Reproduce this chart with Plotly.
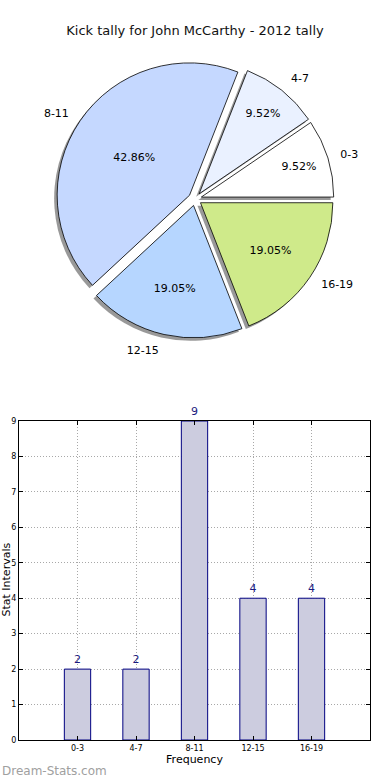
import plotly.graph_objects as go

categories = ["0-3", "4-7", "8-11", "12-15", "16-19"]
counts = [2, 2, 9, 4, 4]
pie_colors = ["#ffffff", "#eaf1ff", "#c5d8ff", "#b6d6ff", "#cfea8a"]
pull = [0.05] * 5
y_ticks = list(range(0, 10))

FONT = "DejaVu Sans"
W, H = 390, 780

# first slice starts at 3 o'clock going counterclockwise (matplotlib default)
rot = 90 - 360.0 * counts[0] / sum(counts)


def pie_domain(cx, cy, r):
    return dict(x=[(cx - r) / W, (cx + r) / W], y=[1 - (cy + r) / H, 1 - (cy - r) / H])


CX, CY, R = 195, 199, 139

fig = go.Figure()

# transparent pie slightly larger: carries the outside category labels
fig.add_trace(go.Pie(
    labels=categories, values=counts, sort=False, direction="counterclockwise",
    rotation=rot, pull=pull,
    marker=dict(colors=["rgba(0,0,0,0)"] * 5, line=dict(width=0)),
    texttemplate="%{label}", textposition="outside",
    textfont=dict(family=FONT, size=11, color="#000000"),
    domain=pie_domain(CX, CY, R * 1.07),
    showlegend=False, hoverinfo="skip",
))

# shadow pie (offset down-left)
fig.add_trace(go.Pie(
    labels=categories, values=counts, sort=False, direction="counterclockwise",
    rotation=rot, pull=pull,
    marker=dict(colors=["rgba(110,110,110,0.7)"] * 5, line=dict(width=0)),
    textinfo="none",
    domain=pie_domain(CX - 3, CY + 3, R),
    showlegend=False, hoverinfo="skip",
))

fig.add_trace(go.Pie(
    labels=categories, values=counts, sort=False, direction="counterclockwise",
    rotation=rot, pull=pull,
    marker=dict(colors=pie_colors, line=dict(color="#000000", width=0.8)),
    texttemplate="%{percent:.2%}", textposition="inside", insidetextorientation="horizontal",
    textfont=dict(family=FONT, size=11, color="#000000"),
    domain=pie_domain(CX, CY, R),
    showlegend=False,
))

fig.add_trace(go.Bar(
    x=categories, y=counts, width=0.45,
    marker=dict(color="#ccccdf", line=dict(color="#000080", width=1)),
    text=counts, texttemplate="%{y}", textposition="outside",
    textfont=dict(family=FONT, size=11, color="#1a1a80"),
    cliponaxis=False, showlegend=False,
    xaxis="x", yaxis="y",
))

GRID_DASH = "1px,2px"

fig.update_layout(
    width=W, height=H,
    margin=dict(l=0, r=0, t=0, b=0),
    paper_bgcolor="white", plot_bgcolor="white",
    font=dict(family=FONT, color="#000000"),
    title=dict(text="Kick tally for John McCarthy - 2012 tally", x=0.5, xanchor="center",
               xref="paper", y=1 - 30 / H, yanchor="middle",
               font=dict(family=FONT, size=13, color="#111111")),
    xaxis=dict(domain=[19 / W, 370 / W], range=[-1, 5], type="category",
               showline=True, linecolor="#000000", linewidth=1, mirror="allticks",
               ticks="inside", ticklen=4, tickcolor="#000000",
               showgrid=True, gridcolor="#a8a8a8", griddash=GRID_DASH, gridwidth=1,
               tickfont=dict(family=FONT, size=8),
               title=dict(text="Frequency", font=dict(family=FONT, size=11), standoff=2),
               anchor="y", zeroline=False, automargin=False),
    yaxis=dict(domain=[1 - 740 / H, 1 - 421 / H], range=[0, 9], tickvals=y_ticks,
               showline=True, linecolor="#000000", linewidth=1, mirror="allticks",
               ticks="inside", ticklen=4, tickcolor="#000000",
               showgrid=True, gridcolor="#a8a8a8", griddash=GRID_DASH, gridwidth=1,
               tickfont=dict(family=FONT, size=8),
               anchor="x", zeroline=False, automargin=False),
    annotations=[
        dict(text="Stat Intervals", x=5.5 / W, y=1 - 580 / H, xref="paper", yref="paper",
             xanchor="center", yanchor="middle", textangle=-90, showarrow=False,
             font=dict(family=FONT, size=11, color="#000000")),
        dict(text="Dream-Stats.com", x=0, y=0, xref="paper", yref="paper",
             xanchor="left", yanchor="bottom", showarrow=False,
             font=dict(family=FONT, size=12, color="#a0a0a0")),
    ],
)

fig.write_html("out.html", config={"displayModeBar": False},
               post_script="document.body.style.margin='0';document.body.style.padding='0';")
